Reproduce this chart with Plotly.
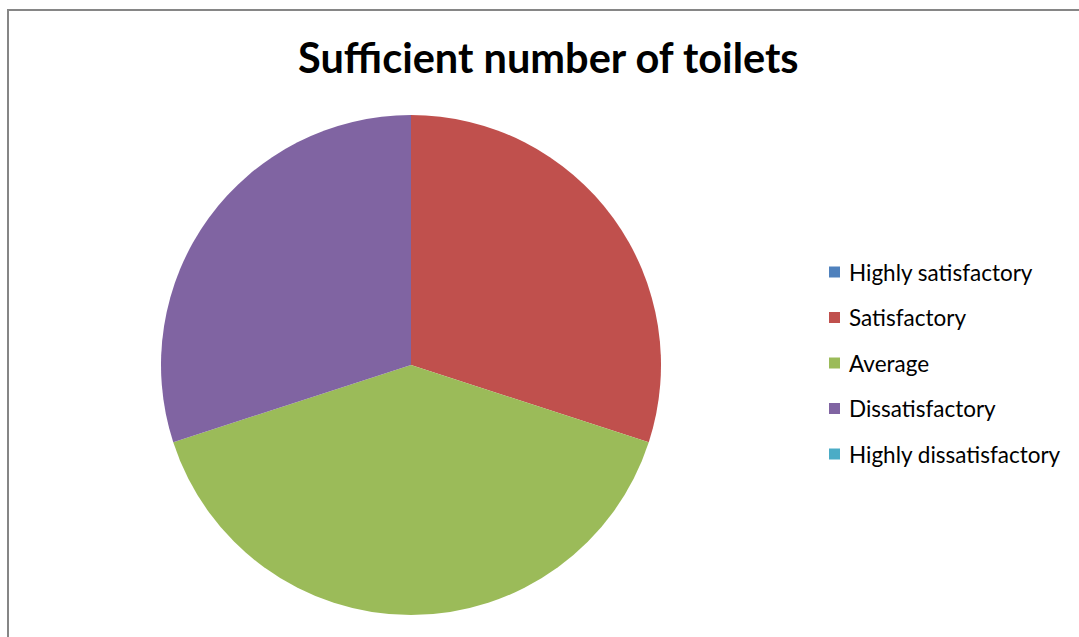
import plotly.graph_objects as go

# Survey responses: sufficient number of toilets
categories = ["Highly satisfactory", "Satisfactory", "Average", "Dissatisfactory", "Highly dissatisfactory"]
responses = [0, 3, 4, 3, 0]
colors = ["#4F81BD", "#C0504D", "#9BBB59", "#8064A2", "#4BACC6"]
title_text = "Sufficient number of toilets"

W, H = 1079, 637

fig = go.Figure(go.Pie(
    labels=categories,
    values=responses,
    sort=False,
    direction="clockwise",
    rotation=0,
    marker=dict(colors=colors, line=dict(width=0)),
    textinfo="none",
    hoverinfo="label+value+percent",
    showlegend=False,
    domain=dict(x=[161 / W, 661 / W], y=[1 - 615 / H, 1 - 115 / H]),
))

shapes = [
    # chart area border
    dict(type="rect", xref="paper", yref="paper",
         x0=8 / W, x1=1.02, y0=-0.02, y1=1 - 10 / H,
         line=dict(color="#868686", width=2), fillcolor="rgba(0,0,0,0)"),
]
annotations = [
    dict(text="<b>" + title_text + "</b>", xref="paper", yref="paper",
         x=548 / W, y=1 - 57 / H, xanchor="center", yanchor="middle",
         showarrow=False, font=dict(family="Lato", size=41.5, color="#000000")),
]

# legend drawn as swatches plus labels
legend_top = 272
legend_step = 45.5
for i, (name, col) in enumerate(zip(categories, colors)):
    yc = legend_top + i * legend_step
    shapes.append(dict(type="rect", xref="paper", yref="paper",
                       x0=829 / W, x1=840 / W, y0=1 - (yc + 5.5) / H, y1=1 - (yc - 5.5) / H,
                       line=dict(width=0), fillcolor=col))
    annotations.append(dict(text=name, xref="paper", yref="paper",
                            x=847 / W, y=1 - yc / H, xanchor="left", yanchor="middle",
                            showarrow=False,
                            font=dict(family="Lato", size=22.5, color="#000000")))

fig.update_layout(
    width=W, height=H,
    margin=dict(l=0, r=0, t=0, b=0),
    paper_bgcolor="white",
    plot_bgcolor="white",
    shapes=shapes,
    annotations=annotations,
)

fig.write_html("out.html")
